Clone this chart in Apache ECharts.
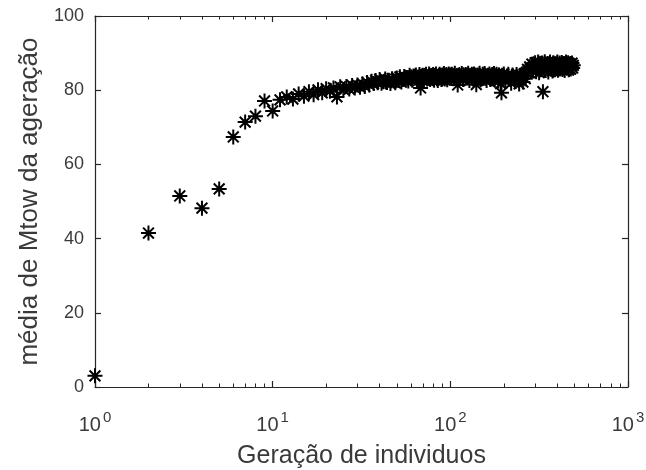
<!DOCTYPE html>
<html>
<head>
<meta charset="utf-8">
<script src="https://cdn.jsdelivr.net/npm/echarts@6/dist/echarts.min.js"></script>
<style>
  html, body { margin: 0; padding: 0; background: #fff; }
  #main { width: 646px; height: 470px; }
</style>
</head>
<body>
<div id="main"></div>
<script>
// geração (x, escala log) e média de Mtow (y)
var geracao = [1, 2, 3, 4, 5, 6, 7, 8, 9, 10, 11,
  12, 13, 14, 15, 16, 17, 18, 19, 20, 21, 22, 23, 24, 25, 26, 27, 28, 29, 30,
  31, 32, 33, 34, 35, 36, 37, 38, 39,
  40, 41, 42, 43, 44, 45, 46, 47, 48, 49, 50, 51, 52, 53, 54, 55, 56, 57, 58, 59,
  60, 61, 62, 63, 64, 65, 66, 67, 68, 69, 70, 71, 72, 73, 74, 75, 76, 77, 78, 79,
  80, 81, 82, 83, 84, 85, 86, 87, 88, 89, 90, 91, 92, 93, 94, 95, 96, 97, 98, 99, 100,
  102, 104, 106, 108, 110, 112, 114, 116, 118, 120, 122, 124, 126, 128, 130, 132, 134, 136, 138, 140,
  142, 144, 146, 148, 150, 152, 154, 156, 158, 160, 162, 164, 166, 168, 170, 172, 174, 176, 178, 180,
  182, 184, 186, 188, 190, 192, 194, 196, 198, 200,
  204, 208, 212, 216, 220, 224, 228, 232, 236, 240, 244, 248, 252, 256, 260, 264, 268, 272, 276, 280,
  284, 288, 292, 296, 300, 304, 308, 312, 316, 320, 324, 328, 332, 336, 340, 344, 348, 352, 356, 360,
  364, 368, 372, 376, 380, 384, 388, 392, 396, 400, 404, 408, 412, 416, 420, 424, 428, 432, 436, 440,
  444, 448, 452, 456, 460, 464, 468, 472, 476, 480, 484, 488, 492];
var mediaMtow = [3, 41.5, 51.5, 48.2, 53.4, 67.4, 71.4, 73, 77.1, 74.4, 77.4,
  78.2, 77.6, 79.0, 78.4, 79.6, 78.8, 80.1, 79.3, 80.4, 79.7, 80.6, 78.2, 80.9, 80.2, 81.0, 80.3, 81.3, 80.6, 81.4,
  80.8, 81.7, 81.0, 82.1, 81.4, 82.4, 81.8, 82.6, 82.0,
  82.9, 81.9, 82.3, 83.0, 82.1, 82.7, 81.8, 83.1, 82.5, 82.0, 83.3, 82.6, 83.6, 82.2, 82.9, 83.7, 82.8, 83.4, 82.5, 84.0,
  83.1, 82.7, 83.8, 83.2, 84.1, 82.9, 83.5, 84.2, 80.6, 83.3, 84.0, 82.8, 83.7, 84.3, 83.0, 83.6, 84.4, 82.9, 83.8, 83.2,
  84.2, 82.7, 83.9, 84.4, 83.1, 82.6, 83.7, 84.3, 83.4, 82.9, 84.1, 83.6, 84.5, 83.0, 83.9, 84.2, 82.8, 83.5, 84.4, 83.2, 83.9,
  84.3, 83.1, 84.6, 83.5, 81.4, 84.1, 83.7, 84.5, 82.9, 83.8, 84.2, 83.3, 84.6, 82.6, 83.9, 84.3, 83.0, 84.4, 83.6, 81.5,
  84.1, 83.4, 84.6, 82.8, 83.7, 84.3, 83.2, 84.5, 83.8, 82.6, 84.0, 83.5, 84.4, 82.9, 83.6, 84.2, 83.1, 84.5, 82.7, 83.9,
  84.3, 83.4, 82.5, 84.1, 83.7, 81.8, 79.3, 84.0, 83.2, 84.4,
  82.6, 83.8, 84.3, 83.0, 81.9, 84.1, 83.5, 82.4, 84.2, 83.3, 81.7, 84.0, 83.6, 82.2, 84.4, 83.1, 84.8, 85.6, 84.9, 86.3,
  85.5, 87.0, 85.2, 86.6, 87.4, 85.0, 86.2, 87.6, 84.7, 86.8, 85.6, 87.3, 79.6, 86.0, 87.7, 85.3, 86.5, 87.2, 84.9, 86.1,
  87.6, 85.7, 86.9, 85.2, 87.4, 86.3, 85.5, 87.1, 86.0, 87.6, 85.4, 86.7, 87.3, 85.8, 86.4, 87.5, 85.6, 86.9, 87.2, 85.3,
  86.6, 87.6, 85.9, 86.3, 87.4, 85.5, 86.8, 87.1, 85.7, 86.5, 87.3, 86.0, 86.7];

var yTicks = [0, 20, 40, 60, 80, 100];
var xMenores = [2, 3, 4, 5, 6, 7, 8, 9, 20, 30, 40, 50, 60, 70, 80, 90, 200, 300, 400, 500, 600, 700, 800, 900];

var pontos = geracao.map(function (g, i) { return [g, mediaMtow[i]]; });

var corEixo = '#262626';
var corTexto = '#3a3a3a';
var fonte = '"Liberation Sans", Arial, sans-serif';
var estrela = 'path://M0,-1L0,1M-1,0L1,0M-0.72,-0.72L0.72,0.72M-0.72,0.72L0.72,-0.72';

var myChart = echarts.init(document.getElementById('main'));

function eixoLog(pos, comRotulo) {
  return {
    type: 'log', logBase: 10, min: 1, max: 1000, position: pos,
    splitLine: { show: false },
    axisLine: { onZero: false, lineStyle: { color: corEixo, width: 1.2 } },
    axisTick: { inside: true, length: 6, lineStyle: { color: corEixo, width: 1.2 } },
    axisLabel: comRotulo ? {
      show: true, margin: 23, fontSize: 20, color: corTexto, fontFamily: fonte,
      formatter: function (v) { return '{b|10}{s|' + Math.round(Math.log10(v)) + '}'; },
      rich: {
        b: { fontSize: 20, fontFamily: fonte, color: corTexto, verticalAlign: 'bottom' },
        s: { fontSize: 15, fontFamily: fonte, color: corTexto, verticalAlign: 'bottom', padding: [0, 0, 10, 2] }
      }
    } : { show: false },
    name: comRotulo ? 'Geração de individuos' : '',
    nameLocation: 'middle', nameGap: 57,
    nameTextStyle: { fontSize: 25, color: corTexto, fontFamily: fonte }
  };
}

function eixoMenor(pos) {
  return {
    type: 'value', min: 0, max: 3, position: pos,
    splitLine: { show: false },
    axisLine: { show: false, onZero: false },
    axisLabel: { show: false },
    axisTick: {
      inside: true, length: 3.5, lineStyle: { color: corEixo, width: 1 },
      customValues: xMenores.map(function (v) { return Math.log10(v); })
    }
  };
}

function eixoY(pos, comRotulo) {
  return {
    type: 'value', min: 0, max: 100, interval: 20, position: pos,
    splitLine: { show: false },
    axisLine: { show: true, onZero: false, lineStyle: { color: corEixo, width: 1.2 } },
    axisTick: { show: true, inside: true, length: 6, lineStyle: { color: corEixo, width: 1.2 },
      customValues: yTicks },
    axisLabel: comRotulo ? { show: true, margin: 11, fontSize: 18, color: corTexto, fontFamily: fonte,
      customValues: yTicks } : { show: false },
    name: comRotulo ? 'média de Mtow da ageração' : '',
    nameLocation: 'middle', nameGap: 50,
    nameTextStyle: { fontSize: 26, color: corTexto, fontFamily: fonte }
  };
}

var option = {
  backgroundColor: '#fff',
  animation: false,
  grid: { left: 95, right: 18, top: 16, bottom: 83, containLabel: false, outerBoundsMode: 'none' },
  xAxis: [eixoLog('bottom', true), eixoLog('top', false), eixoMenor('bottom'), eixoMenor('top')],
  yAxis: [eixoY('left', true), eixoY('right', false)],
  series: [{
    type: 'scatter',
    xAxisIndex: 0, yAxisIndex: 0,
    data: pontos,
    symbol: estrela,
    symbolSize: 15,
    itemStyle: { color: 'rgba(0,0,0,0)', borderColor: '#000', borderWidth: 2, opacity: 1 }
  }]
};
myChart.setOption(option);
</script>
</body>
</html>
